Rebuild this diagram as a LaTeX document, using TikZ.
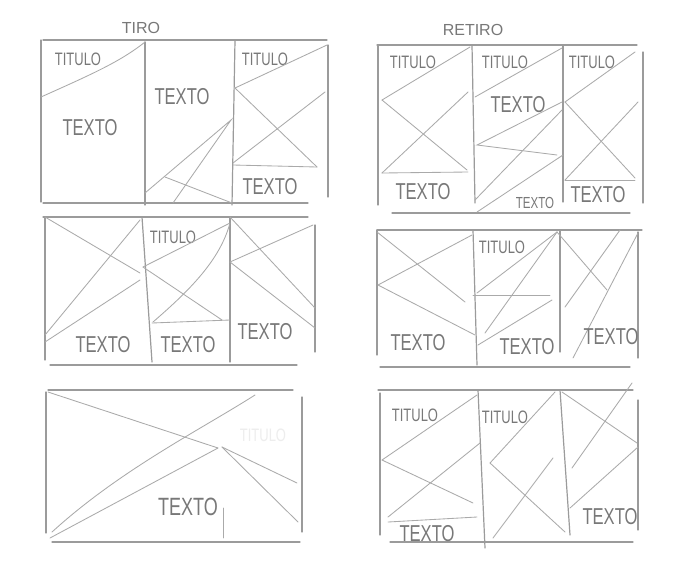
\documentclass[tikz,border=0pt]{standalone}
\usepackage{fontspec}
\setmainfont{Liberation Sans}
\newfontfamily\hand[FakeStretch=0.72]{Liberation Sans}
\definecolor{pencil}{RGB}{155,155,155}
\definecolor{lead}{RGB}{120,120,120}

\begin{document}
\begin{tikzpicture}[x=1pt, y=-1pt,
  frame/.style={draw=pencil, line width=1.2pt, line cap=round},
  sketch/.style={draw=pencil!85, line width=0.85pt, line cap=round},
  titulo/.style={text=lead, font=\hand\fontsize{18}{18}\selectfont, inner sep=0pt},
  texto/.style={text=lead, font=\hand\fontsize{23}{23}\selectfont, inner sep=0pt},
  side/.style={text=lead, font=\fontsize{16}{16}\selectfont, inner sep=0pt}]
  \useasboundingbox (0,0) rectangle (676,571);
  \fill[white] (0,0) rectangle (676,571);

  % TIRO, top row
  \node[side] (tiro) at (141,28) {TIRO};
  \draw[frame] (43,40) -- (327,40);
  \draw[frame] (41,40) -- (41,202);
  \draw[frame] (145,42) -- (145,205);
  \draw[frame] (235,40) -- (232,205);
  \draw[frame] (328,45) -- (328,197);
  \draw[frame] (43,203) -- (308,203);
  \draw[sketch] (41,97) .. controls (90,75) and (120,62) .. (145,42);
  \node[titulo] (tiroTa) at (78,59) {TITULO};
  \node[texto] (tiroXa) at (90,128) {TEXTO};
  \node[texto] (tiroXb) at (182,97) {TEXTO};
  \draw[sketch] (145,193) -- (231,120) -- (173,203);
  \draw[sketch] (165,177) -- (232,203);
  \node[titulo] (tiroTc) at (265,59) {TITULO};
  \draw[sketch] (235,88) -- (327,45);
  \draw[sketch] (235,88) -- (317,167);
  \draw[sketch] (233,163) -- (325,92);
  \draw[sketch] (233,165) -- (317,167);
  \node[texto] (tiroXc) at (270,187) {TEXTO};

  % RETIRO, top row
  \node[side] (retiro) at (473,30) {RETIRO};
  \draw[frame] (377,45) -- (637,45);
  \draw[frame] (378,45) -- (378,205);
  \draw[frame] (472,45) -- (475,203);
  \draw[frame] (563,45) -- (563,202);
  \draw[frame] (643,52) -- (643,203);
  \draw[frame] (392,213) -- (630,213);
  \node[titulo] (retTa) at (413,62) {TITULO};
  \draw[sketch] (382,100) -- (470,47);
  \draw[sketch] (382,100) -- (467,170);
  \draw[sketch] (382,173) -- (468,92);
  \draw[sketch] (382,173) -- (468,172);
  \node[texto] (retXa) at (423,192) {TEXTO};
  \node[titulo] (retTb) at (505,62) {TITULO};
  \draw[sketch] (475,97) -- (562,48);
  \node[texto] (retXb) at (518,105) {TEXTO};
  \draw[sketch] (562,102) -- (477,145) -- (557,155);
  \draw[sketch] (475,200) -- (562,110);
  \draw[sketch] (477,212) -- (563,155);
  \node[texto, font=\hand\fontsize{16}{16}\selectfont] (retXb2) at (535,203) {TEXTO};
  \node[titulo] (retTc) at (592,62) {TITULO};
  \draw[sketch] (565,102) -- (635,52);
  \draw[sketch] (565,102) -- (635,178);
  \draw[sketch] (565,180) -- (638,102);
  \draw[sketch] (565,180) -- (635,180);
  \node[texto] (retXc) at (598,195) {TEXTO};

  % TIRO, middle row
  \draw[frame] (43,217) -- (308,217);
  \draw[frame] (45,217) -- (45,360);
  \draw[frame] (142,217) -- (152,362);
  \draw[frame] (230,217) -- (230,362);
  \draw[frame] (315,225) -- (315,352);
  \draw[frame] (50,365) -- (297,365);
  \draw[sketch] (45,217) -- (140,273);
  \draw[sketch] (140,220) -- (45,335);
  \draw[sketch] (45,342) -- (140,280);
  \node[texto] (tiroXd) at (103,345) {TEXTO};
  \node[titulo] (tiroTe) at (173,237) {TITULO};
  \draw[sketch] (143,267) -- (230,223);
  \draw[sketch] (143,267) -- (222,320);
  \draw[sketch] (153,322) .. controls (190,290) and (220,260) .. (230,223);
  \draw[sketch] (152,323) -- (230,320);
  \node[texto] (tiroXe) at (188,345) {TEXTO};
  \draw[sketch] (230,217) -- (315,308);
  \draw[sketch] (230,262) -- (313,225);
  \draw[sketch] (230,262) -- (315,328);
  \node[texto] (tiroXf) at (265,332) {TEXTO};

  % RETIRO, middle row
  \draw[frame] (377,230) -- (642,230);
  \draw[frame] (377,230) -- (377,355);
  \draw[frame] (473,230) -- (477,365);
  \draw[frame] (560,230) -- (560,352);
  \draw[frame] (638,232) -- (638,358);
  \draw[frame] (380,367) -- (630,367);
  \draw[sketch] (377,232) -- (465,302);
  \draw[sketch] (378,285) -- (472,235);
  \draw[sketch] (378,285) -- (475,335);
  \node[texto] (retXd) at (418,343) {TEXTO};
  \node[titulo] (retTe) at (502,247) {TITULO};
  \coordinate (apex) at (557,232);
  \draw[sketch] (apex) -- (477,293);
  \draw[sketch] (apex) -- (485,333);
  \draw[sketch] (473,295) -- (550,295);
  \draw[sketch] (478,345) -- (552,300);
  \node[texto] (retXe) at (527,347) {TEXTO};
  \draw[sketch] (apex) -- (607,290);
  \draw[sketch] (565,307) -- (620,230);
  \draw[sketch] (573,358) -- (638,233);
  \node[texto] (retXf) at (611,337) {TEXTO};

  % TIRO, bottom row
  \draw[frame] (48,390) -- (293,390);
  \draw[frame] (46,392) -- (46,533);
  \draw[frame] (302,397) -- (302,532);
  \draw[frame] (52,542) -- (300,542);
  \draw[sketch] (48,392) -- (218,448);
  \draw[sketch] (52,532) .. controls (120,470) and (200,430) .. (255,395);
  \draw[sketch] (50,538) -- (218,448);
  \draw[sketch] (222,447) -- (297,483);
  \draw[sketch] (222,447) -- (298,522);
  \draw[sketch] (223,508) -- (223,538);
  \node[titulo, text=pencil!18] (tiroTg) at (263,435) {TITULO};
  \node[texto, font=\hand\fontsize{25}{25}\selectfont] (tiroXg) at (188,507) {TEXTO};

  % RETIRO, bottom row
  \draw[frame] (378,390) -- (633,390);
  \draw[frame] (380,393) -- (380,535);
  \draw[frame] (478,390) -- (485,548);
  \draw[frame] (560,390) -- (570,535);
  \draw[frame] (638,400) -- (638,530);
  \draw[frame] (390,542) -- (633,542);
  \node[titulo] (retTg) at (415,415) {TITULO};
  \draw[sketch] (382,460) -- (477,395);
  \draw[sketch] (382,460) -- (473,503);
  \draw[sketch] (388,517) -- (480,443);
  \draw[sketch] (388,522) -- (477,517);
  \node[texto] (retXg) at (427,534) {TEXTO};
  \node[titulo] (retTh) at (505,417) {TITULO};
  \draw[sketch] (555,392) -- (490,463) -- (565,532);
  \draw[sketch] (493,538) -- (553,458);
  \draw[sketch] (562,392) -- (637,443);
  \draw[sketch] (572,468) -- (632,383);
  \draw[sketch] (570,508) -- (638,447);
  \node[texto] (retXi) at (610,517) {TEXTO};
\end{tikzpicture}
\end{document}
